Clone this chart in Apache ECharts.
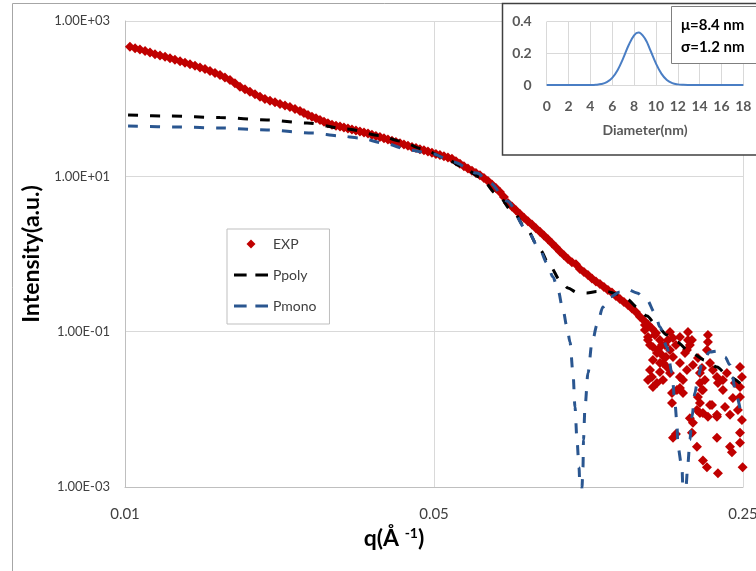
<!DOCTYPE html>
<html><head><meta charset="utf-8">
<script src="https://cdn.jsdelivr.net/npm/echarts@6/dist/echarts.min.js"></script>
<style>html,body{margin:0;padding:0;background:#fff}#c{width:756px;height:571px}</style>
</head><body><div id="c"></div>
<script>
const FONT = 'Lato, "Liberation Sans", sans-serif';

// main chart tick values
const xTickValues = [0.01, 0.05, 0.25];
const yTickValues = [0.001, 0.1, 10, 1000];

// EXP: dense band
const expBandQ = [0.01026,0.01054,0.01081,0.01110,0.01139,0.01169,0.01200,0.01232,0.01264,0.01297,
0.01332,0.01367,0.01403,0.01440,0.01478,0.01517,0.01557,0.01598,0.01640,0.01683,
0.01728,0.01773,0.01820,0.01868,0.01917,0.01968,0.02020,0.02073,0.02128,0.02184,
0.02242,0.02301,0.02361,0.02424,0.02488,
0.02540,0.02594,0.02648,0.02704,0.02761,0.02819,0.02878,0.02939,0.03001,0.03064,
0.03128,0.03194,0.03261,0.03330,0.03400,0.03472,0.03545,0.03619,0.03695,0.03773,
0.03853,0.03934,0.04017,0.04101,0.04188,0.04276,0.04366,0.04458,0.04552,0.04647,
0.04745,0.04845,0.04947,0.05051,0.05157,0.05266,0.05377,0.05490,0.05606,0.05724,
0.05844,0.05967,0.06093,0.06221,0.06352,0.06486,0.06622,0.06762,0.06904,0.07049,
0.07198,0.07349,0.07504,0.07662,0.07823,0.07988,0.08156,0.08328,0.08503,0.08682,
0.08865,0.09052,0.09242,0.09437,0.09636,0.09838,0.10045,0.10257,0.10473,0.10693,
0.10918,0.11148,0.11383,0.11623,0.11867,0.12117,0.12372,0.12633,0.12899,0.13170,
0.13447,0.13731,0.14020,0.14315,0.14616,0.14924,0.15238,0.15559];
const expBandI = [466.9,446.4,428.2,410.9,394.2,373.7,360.7,346.0,330.9,316.5,
303.7,290.5,277.9,265.0,252.7,241.0,226.4,214.0,201.7,187.3,
173.9,157.6,142.6,132.4,122.6,113.8,105.7,99.3,94.2,89.8,
85.6,81.9,77.9,73.6,69.4,
65.4,61.6,58.4,55.9,53.1,50.5,48.2,46.3,44.9,43.7,
42.4,41.3,40.1,38.9,37.7,36.6,35.5,34.2,33.1,32.0,
30.9,29.7,28.7,27.7,26.6,25.7,24.8,23.9,23.1,22.4,
21.6,20.9,20.1,19.4,18.8,18.2,17.5,16.8,15.6,14.5,
13.5,12.6,11.8,11.0,10.3,9.52,8.71,7.85,7.07,6.28,
5.42,4.55,4.08,3.66,3.28,2.94,2.65,2.39,2.15,1.94,
1.73,1.55,1.38,1.22,1.08,0.962,0.862,0.782,0.737,0.641,
0.586,0.536,0.484,0.442,0.411,0.376,0.344,0.319,0.288,0.263,
0.241,0.220,0.199,0.179,0.156,0.139,0.124,0.110];

// EXP: noisy high-q tail
const expTailQ = [0.1589,0.1622,0.1564,0.1597,0.1564,0.1622,0.1682,0.1556,0.1622,0.1648,
0.1564,0.1709,0.1691,0.1709,0.1736,0.1800,0.1877,0.1877,0.1867,0.1800,
0.1867,0.1829,0.1772,0.1896,0.2083,0.2083,0.2072,0.1709,0.1800,0.1727,
0.1727,0.1829,0.1998,0.1977,0.1998,0.2105,0.2029,0.1967,0.1926,0.2029,
0.2194,0.2252,0.2276,0.2183,0.2336,0.2372,0.2461,0.2486,0.2461,0.2461,
0.2435,0.2486,0.2461,0.2461,0.2336,0.2360,0.2183,0.1967,0.2029,0.2072,
0.2194,0.2495,0.1736,0.1763,0.1916,0.1896,0.2183,0.2252,0.1926,0.1998,
0.2105,0.1665,0.1500,0.1524,0.1639,0.1763,0.1977,0.2138,0.2299,0.2397,
0.1524,0.1540,0.1524,0.1597,0.1648,0.1736,0.1800,0.1848,0.1916,0.2019,
0.2050,0.2019,0.2127,0.2183,0.2083,0.1998,0.1580,0.1639,0.1500,0.1540,
0.1605,0.1674];
const expTailI = [0.0961,0.0781,0.0634,0.0531,0.0431,0.0395,0.0351,0.0261,0.0302,0.0239,
0.0194,0.0990,0.0781,0.0580,0.0472,0.0853,0.0990,0.0781,0.0580,0.0395,
0.0321,0.0239,0.0177,0.0673,0.0906,0.0736,0.0580,0.0294,0.0188,0.0162,
0.0121,0.0162,0.0218,0.0144,0.0121,0.0114,0.0090,0.0098,0.0067,0.0177,
0.0218,0.0177,0.0107,0.0085,0.0085,0.0140,0.0351,0.0261,0.0194,0.0144,
0.0098,0.0073,0.0050,0.0037,0.0033,0.0028,0.0043,0.0033,0.0022,0.0018,
0.0015,0.0018,0.0043,0.0048,0.0050,0.0077,0.0261,0.0239,0.0372,0.0294,
0.0395,0.0673,0.105,0.0853,0.0500,0.0673,0.0458,0.0321,0.0294,0.0218,
0.0781,0.0321,0.0239,0.0218,0.0395,0.0829,0.0261,0.0531,0.0781,0.0340,
0.0239,0.0177,0.0114,0.0080,0.0080,0.0090,0.0906,0.0673,0.122,0.0673,
0.0580,0.0472];

// Ppoly model
const ppolyQ = [0.01016,0.01264,0.01640,0.02095,0.02580,0.03178,0.03773,0.04188,0.04721,0.05241,
0.05816,0.06352,0.06942,0.07544,0.08116,0.08682,0.09148,0.09636,0.10045,0.1053,
0.1109,0.1169,0.1231,0.1297,0.1366,0.1439,0.1516,0.1597,0.1683,0.1772,
0.1896,0.2051,0.2183,0.2311,0.2486];
const ppolyI = [61.6,59.8,57.2,53.1,48.6,40.7,33.6,28.5,22.5,17.7,
13.2,9.80,5.92,3.47,2.04,1.13,0.700,0.462,0.365,0.319,
0.315,0.329,0.329,0.305,0.263,0.208,0.159,0.118,0.0906,0.0736,
0.0547,0.0431,0.0351,0.0269,0.0206];

// Pmono model
const pmonoQ = [0.01016,0.01332,0.01640,0.02095,0.02662,0.03064,0.03400,0.03834,0.04412,0.04974,
0.05520,0.06255,0.06693,0.07312,0.08116,0.08682,0.09006,0.09292,0.09537,0.09790,
0.09995,0.10153,0.10313,0.10421,0.1053,0.10640,0.10693,0.1075,0.10807,0.10864,
0.10892,0.10978,0.11151,0.11383,0.1169,0.12054,0.12502,0.13170,0.1366,0.1439,
0.1516,0.15804,0.16221,0.1682,0.17267,0.17538,0.1772,0.1781,0.1819,0.1828,
0.1844,0.18572,0.18767,0.1896,0.19162,0.19464,0.1977,0.2029,0.2105,0.2194,
0.2276,0.2336,0.2422,0.2486];
const pmonoI = [44.5,43.2,41.9,39.5,36.1,33.1,31.2,26.9,21.8,19.4,
15.3,11.0,8.21,4.81,2.04,1.13,0.766,0.506,0.344,0.190,
0.115,0.0736,0.0294,0.0107,0.00403,0.0018,0.001,0.000001,0.001,0.0018,
0.00403,0.0107,0.0294,0.0714,0.122,0.208,0.279,0.324,0.354,0.315,
0.256,0.174,0.115,0.0634,0.0294,0.0121,0.0067,0.0033,0.0018,0.001,
0.000001,0.001,0.00204,0.00403,0.00797,0.0162,0.0261,0.0431,0.0547,0.0563,
0.0472,0.0372,0.0144,0.0073];

// inset: size distribution
const sizeD = [0,1,2,3,4,4.5,5,5.5,6,6.5,7,7.5,8,8.4,9,9.5,10,10.5,11,11.5,12,12.5,13,14,15,16,17,18];
const sizeP = [0,0,0,0,0.0004,0.0017,0.006,0.018,0.045,0.095,0.168,0.251,0.314,0.332,0.293,0.218,0.137,0.072,0.032,0.012,0.004,0.001,0.0002,0,0,0,0,0];
const fitText = ['μ=8.4 nm', 'σ=1.2 nm'];

function zip(a, b) { return a.map((v, i) => [v, b[i]]); }
function sci(v) {
  let e = Math.floor(Math.log10(v) + 1e-9);
  let m = v / Math.pow(10, e);
  if (m >= 9.995) { m /= 10; e += 1; }
  return m.toFixed(2) + 'E' + (e < 0 ? '-' : '+') + String(Math.abs(e)).padStart(2, '0');
}

const RED = '#C00000', BLUE = '#2A5690';
const DASH_ICON = 'path://M0,0H13V3H0Z M22,0H35V3H22Z';

const chart = echarts.init(document.getElementById('c'), null, {renderer: 'canvas'});
const option = {
  animation: false,
  backgroundColor: '#ffffff',
  textStyle: {fontFamily: FONT},
  grid: [
    {left: 125, top: 21, width: 618, height: 466, outerBoundsMode: 'none'},
    {left: 546.7, top: 21.7, width: 196.6, height: 63.3, outerBoundsMode: 'none'}
  ],
  legend: {
    data: [
      {name: 'EXP', icon: 'path://M5,0L10,5L5,10L0,5Z', itemStyle: {color: RED}},
      {name: 'Ppoly', icon: DASH_ICON, itemStyle: {color: '#000000'}},
      {name: 'Pmono', icon: DASH_ICON, itemStyle: {color: BLUE}}
    ],
    orient: 'vertical', left: 227, top: 229,
    padding: [7, 13, 10, 7],
    itemWidth: 34, itemHeight: 9, itemGap: 15,
    backgroundColor: '#fff', borderColor: '#BFBFBF', borderWidth: 1,
    selectedMode: false,
    textStyle: {fontSize: 14, color: '#404040', fontFamily: FONT, lineHeight: 16}
  },
  xAxis: [
    {
      type: 'log', logBase: 5, gridIndex: 0, min: 0.01, max: 0.25,
      name: '{a|q(Å }{b|-1}{a|)}', nameLocation: 'middle', nameGap: 30,
      nameTextStyle: {padding: [0, 80, 0, 0], rich: {
        a: {fontSize: 23, fontWeight: 'bold', color: '#000', fontFamily: FONT},
        b: {fontSize: 14, fontWeight: 'bold', color: '#000', fontFamily: FONT, verticalAlign: 'top', padding: [0, 0, 9, 0]}
      }},
      axisLine: {show: true, onZero: false, lineStyle: {color: '#BFBFBF'}},
      axisTick: {show: false, customValues: xTickValues},
      axisLabel: {customValues: xTickValues, formatter: v => String(+(+v).toPrecision(3)), fontSize: 15, color: '#404040', margin: 20, fontFamily: FONT, alignMinLabel: 'center', alignMaxLabel: 'center', hideOverlap: false},
      splitLine: {show: true, lineStyle: {color: '#D9D9D9', width: 1}},
      minorTick: {show: false}, minorSplitLine: {show: false}
    },
    {
      type: 'value', gridIndex: 1, min: 0, max: 18, interval: 2, z: 11,
      name: 'Diameter(nm)', nameLocation: 'middle', nameGap: 38,
      nameTextStyle: {fontSize: 14, fontWeight: 'bold', color: '#595959', fontFamily: FONT},
      axisLine: {show: true, lineStyle: {color: '#D9D9D9'}},
      axisTick: {show: false},
      axisLabel: {fontSize: 14, fontWeight: 'bold', color: '#595959', margin: 14, fontFamily: FONT},
      splitLine: {show: true, lineStyle: {color: '#D9D9D9'}}
    }
  ],
  yAxis: [
    {
      type: 'log', logBase: 10, gridIndex: 0, min: 0.001, max: 1000,
      name: 'Intensity(a.u.)', nameLocation: 'middle', nameGap: 67,
      nameTextStyle: {fontSize: 23, fontWeight: 'bold', color: '#000', fontFamily: FONT},
      axisLine: {show: true, onZero: false, lineStyle: {color: '#BFBFBF'}},
      axisTick: {show: false, customValues: yTickValues},
      axisLabel: {customValues: yTickValues, formatter: v => sci(+v), fontSize: 13, color: '#404040', margin: 15, fontFamily: FONT},
      splitLine: {show: true, lineStyle: {color: '#D9D9D9', width: 1}},
      minorTick: {show: false}, minorSplitLine: {show: false}
    },
    {
      type: 'value', gridIndex: 1, min: 0, max: 0.4, interval: 0.2, z: 11,
      axisLine: {show: false}, axisTick: {show: false},
      axisLabel: {fontSize: 14, fontWeight: 'bold', color: '#595959', margin: 15, fontFamily: FONT},
      splitLine: {show: true, lineStyle: {color: '#D9D9D9'}}
    }
  ],
  series: [
    {name: 'EXP', type: 'scatter', xAxisIndex: 0, yAxisIndex: 0,
     data: zip(expBandQ.concat(expTailQ), expBandI.concat(expTailI)),
     symbol: 'diamond', symbolSize: 10, itemStyle: {color: RED, opacity: 1}, z: 2},
    {name: 'Ppoly', type: 'line', xAxisIndex: 0, yAxisIndex: 0, data: zip(ppolyQ, ppolyI),
     symbol: 'none', smooth: 0.3, smoothMonotone: 'x',
     lineStyle: {color: '#000000', width: 3, type: [10, 12]}, itemStyle: {color: '#000000'}, z: 3},
    {name: 'Pmono', type: 'line', xAxisIndex: 0, yAxisIndex: 0, data: zip(pmonoQ, pmonoI),
     symbol: 'none', smooth: 0.3, smoothMonotone: 'x',
     lineStyle: {color: BLUE, width: 3, type: [10, 12]}, itemStyle: {color: BLUE}, z: 3},
    {name: 'dist', type: 'line', xAxisIndex: 1, yAxisIndex: 1, data: zip(sizeD, sizeP),
     symbol: 'none', smooth: 0.4, lineStyle: {color: '#4A7EC4', width: 2}, itemStyle: {color: '#4A7EC4'}, z: 12}
  ],
  graphic: [
    {type: 'rect', silent: true, z: 0, shape: {x: 12.5, y: 3.5, width: 800, height: 600},
     style: {fill: null, stroke: '#A6A6A6', lineWidth: 1}},
    {type: 'rect', silent: true, z: 10, shape: {x: 502.5, y: 3.5, width: 300, height: 151.5},
     style: {fill: '#ffffff', stroke: '#404040', lineWidth: 1.5}},
    {type: 'rect', silent: true, z: 13, shape: {x: 671.5, y: 6.5, width: 120, height: 57},
     style: {fill: '#ffffff', stroke: '#7F7F7F', lineWidth: 1}},
    {type: 'text', silent: true, z: 14, x: 681, y: 25,
     style: {text: fitText[0], font: 'bold 15px ' + FONT, fill: '#000', align: 'left', verticalAlign: 'middle'}},
    {type: 'text', silent: true, z: 14, x: 681, y: 47,
     style: {text: fitText[1], font: 'bold 15px ' + FONT, fill: '#000', align: 'left', verticalAlign: 'middle'}}
  ]
};
chart.setOption(option);
</script>
</body></html>
